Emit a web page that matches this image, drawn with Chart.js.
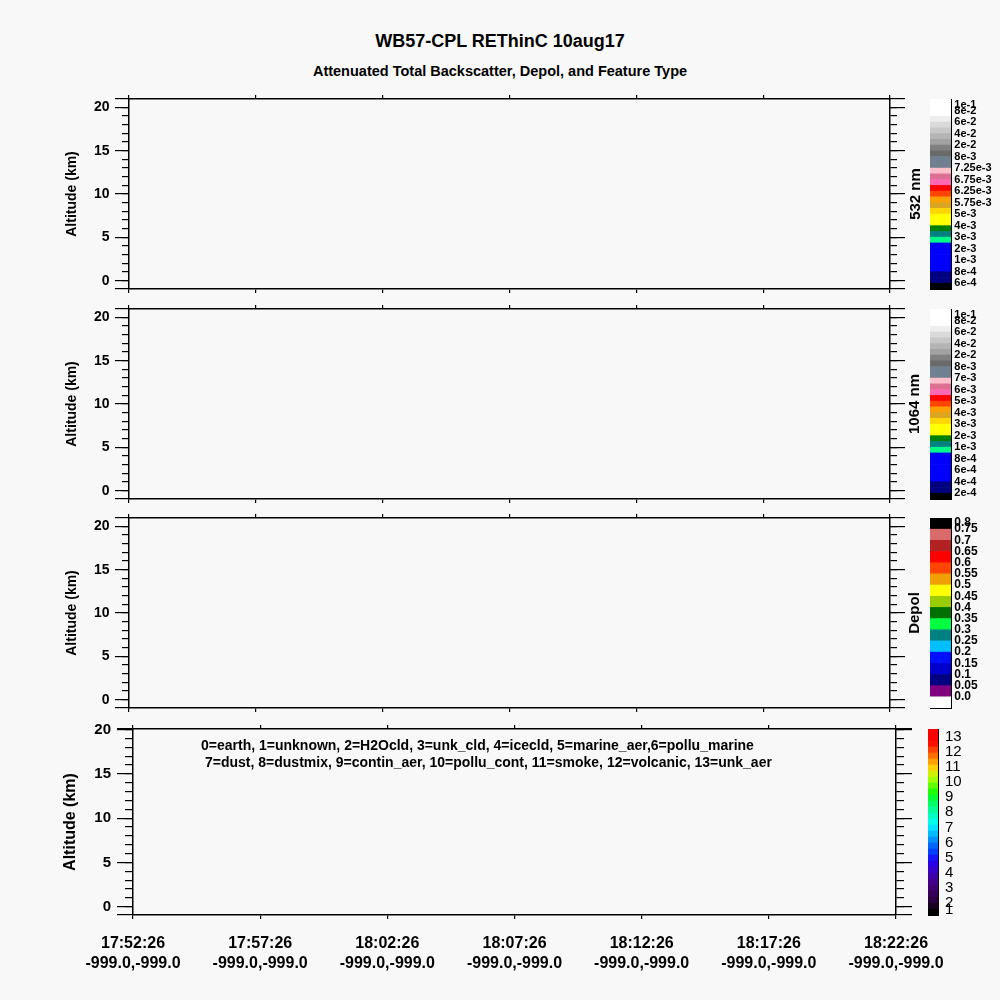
<!DOCTYPE html>
<html><head><meta charset="utf-8">
<script src="https://cdn.jsdelivr.net/npm/chart.js@4.4.1/dist/chart.umd.min.js"></script>
<style>
html,body{margin:0;padding:0;background:#f8f8f8;}
body{width:1000px;height:1000px;position:relative;overflow:hidden;font-family:"Liberation Sans",Arial,Helvetica,sans-serif;}
.t{position:absolute;white-space:nowrap;font-weight:bold;color:#000;}
canvas{position:absolute;}
</style></head><body>
<div class="t" style="left:0;width:1000px;text-align:center;top:32px;font-size:18px;line-height:18px;">WB57-CPL REThinC 10aug17</div>
<div class="t" style="left:0;width:1000px;text-align:center;top:63.5px;font-size:14.5px;line-height:14.5px;">Attenuated Total Backscatter, Depol, and Feature Type</div>
<div class="t" style="left:201px;top:738px;font-size:14px;line-height:14px;z-index:5;">0=earth, 1=unknown, 2=H2Ocld, 3=unk_cld, 4=icecld, 5=marine_aer,6=pollu_marine</div>
<div class="t" style="left:205px;top:755.3px;font-size:14px;line-height:14px;z-index:5;">7=dust, 8=dustmix, 9=contin_aer, 10=pollu_cont, 11=smoke, 12=volcanic, 13=unk_aer</div>
<script>
// ---------------- data ----------------
const timeMinutes = [0, 5, 10, 15, 20, 25, 30];
const timeLabels = ['17:52:26','17:57:26','18:02:26','18:07:26','18:12:26','18:17:26','18:22:26'];
const coordLabels = ['-999.0,-999.0','-999.0,-999.0','-999.0,-999.0','-999.0,-999.0','-999.0,-999.0','-999.0,-999.0','-999.0,-999.0'];
const altTicks = [0, 5, 10, 15, 20];

const cb532Labels = ['6e-4','8e-4','1e-3','2e-3','3e-3','4e-3','5e-3','5.75e-3','6.25e-3','6.75e-3','7.25e-3','8e-3','2e-2','4e-2','6e-2','8e-2','1e-1'];
const cb1064Labels = ['2e-4','4e-4','6e-4','8e-4','1e-3','2e-3','3e-3','4e-3','5e-3','6e-3','7e-3','8e-3','2e-2','4e-2','6e-2','8e-2','1e-1'];
const cbBackscatterPos = [1,3,5,7,9,11,13,15,17,19,21,23,25,27,29,31,32];
const backscatterColors = ['#000000','#000080','#000080','#0000ff','#0000ff','#0000ff','#0000ff','#0000ff',
  '#00fa8a','#008080','#008000','#ffff00','#ffff00','#ffd700','#daa520','#ff9f00','#ff4500','#ff0000',
  '#ff69b4','#db7093','#ffc0cb','#708090','#708090','#6a6a6a','#808080','#a2a2a2','#b4b4b4','#c8c8c8',
  '#dadada','#eeeeee','#ffffff','#ffffff','#ffffff'];

const depolLabels = ['0.0','0.05','0.1','0.15','0.2','0.25','0.3','0.35','0.4','0.45','0.5','0.55','0.6','0.65','0.7','0.75','0.8'];
const depolPos = [1,2,3,4,5,6,7,8,9,10,11,12,13,14,15,16,16.6];
const depolColors = ['#ffffff','#800080','#000080','#0000cd','#0010ff','#00bfff','#008080','#00ff40','#007000',
  '#9acd00','#ffff00','#f0a000','#ff4500','#ff0000','#b22222','#d96b6b','#000000'];

const ftLabels = ['1','2','3','4','5','6','7','8','9','10','11','12','13'];
const ftValues = [1,2,3,4,5,6,7,8,9,10,11,12,13];
const ftColors = ['#000000','#1a0020','#2a0040','#360058','#400070','#44008c','#4000a8','#3800c8','#2a00e6','#1414ff',
  '#0040ff','#0066ff','#0090ff','#00bbff','#00e0ff','#00ffe8','#00ffc0','#00ff98','#00ff66','#00ff33',
  '#20ff00','#60ff00','#a0ff00','#d0f000','#ffd000','#ffa000','#ff7000','#ff4000','#ff1000','#ff0000','#ff0000'];

// ---------------- helpers ----------------
Chart.defaults.font.family = "'Liberation Sans', Arial, Helvetica, sans-serif";
Chart.defaults.color = '#000';

function makeCanvas(left, top, w, h) {
  const c = document.createElement('canvas');
  c.width = w; c.height = h;
  c.style.left = left + 'px'; c.style.top = top + 'px';
  c.style.width = w + 'px'; c.style.height = h + 'px';
  document.body.appendChild(c);
  return c;
}
const setTicks = list => s => { s.ticks = list.map(v => ({ value: v })); };
const BORDER = { display: true, color: '#000', width: 1.5 };

function panel(p) {
  const h = (p.y1 - p.y0) + 10 + p.bottomH;
  const cv = makeCanvas(0, p.y0 - 10, 1000, h);
  const majVals = [p.yMin, ...altTicks, p.yMax];
  const minVals = [];
  for (let v = Math.ceil(p.yMin); v <= Math.floor(p.yMax); v++) minVals.push(v);
  const tickGrid = len => ({ drawOnChartArea: false, drawTicks: true, tickLength: len, color: '#000', lineWidth: 1.2 });
  const vFit = w => s => { s.width = w; s.paddingTop = 0; s.paddingBottom = 0; };
  new Chart(cv, {
    type: 'scatter',
    data: { datasets: [{ data: [], xAxisID: 'x', yAxisID: 'y' }] },
    options: {
      responsive: false, animation: false,
      layout: { padding: 0 },
      plugins: { legend: { display: false }, tooltip: { enabled: false } },
      scales: {
        x: {
          type: 'linear', position: 'bottom', min: 0, max: 30,
          afterBuildTicks: setTicks(timeMinutes),
          grid: tickGrid(4), border: BORDER,
          ticks: {
            display: p.labels, autoSkip: false, maxRotation: 0, padding: 14,
            font: { size: 16, weight: 'bold', lineHeight: 1.29 },
            callback: (v, i) => [timeLabels[i], coordLabels[i]]
          },
          afterFit: s => { s.height = p.bottomH; s.paddingLeft = 0; s.paddingRight = 0; }
        },
        xTop: {
          type: 'linear', position: 'top', min: 0, max: 30,
          afterBuildTicks: setTicks(timeMinutes),
          grid: tickGrid(4), border: BORDER, ticks: { display: false },
          afterFit: s => { s.height = 10; s.paddingLeft = 0; s.paddingRight = 0; }
        },
        y: {
          type: 'linear', position: 'left', weight: 1, min: p.yMin, max: p.yMax,
          afterBuildTicks: setTicks(majVals),
          grid: tickGrid(p.majL), border: { display: false },
          ticks: {
            autoSkip: false, padding: p.tickPad, font: { size: p.tickFs, weight: 'bold' },
            callback: v => altTicks.includes(v) ? String(v) : ''
          },
          title: { display: true, text: 'Altitude (km)', font: { size: p.titleFs, weight: 'bold' }, padding: { top: p.titlePad, bottom: 0 } },
          afterFit: vFit(p.x0)
        },
        yMin: {
          type: 'linear', position: 'left', weight: 0, min: p.yMin, max: p.yMax,
          afterBuildTicks: setTicks(minVals),
          grid: tickGrid(p.minL), border: BORDER, ticks: { display: false },
          afterFit: vFit(0)
        },
        yR: {
          type: 'linear', position: 'right', weight: 1, min: p.yMin, max: p.yMax,
          afterBuildTicks: setTicks(majVals),
          grid: tickGrid(p.majR), border: { display: false }, ticks: { display: false },
          afterFit: vFit(1000 - p.x1)
        },
        yMinR: {
          type: 'linear', position: 'right', weight: 0, min: p.yMin, max: p.yMax,
          afterBuildTicks: setTicks(minVals),
          grid: tickGrid(p.minR), border: BORDER, ticks: { display: false },
          afterFit: vFit(0)
        }
      }
    }
  });
}

function colorbar(o) {
  const cw = 1000 - o.cl;
  const h = (o.y1 - o.y0) + 20;
  const cv = makeCanvas(o.cl, o.y0 - 10, cw, h);
  const leftW = o.x0 - o.cl, rightW = cw - (o.x1 - o.cl);
  const datasets = o.colors.map(c => ({
    data: [1], backgroundColor: c, borderWidth: 0, barPercentage: 1, categoryPercentage: 1,
    xAxisID: 'x', yAxisID: 'y', stack: 'cb'
  }));
  const thin = { display: true, color: '#000', width: 1 };
  const hFit = s => { s.height = 0; s.paddingLeft = 0; s.paddingRight = 0; };
  new Chart(cv, {
    type: 'bar',
    data: { labels: ['cb'], datasets },
    options: {
      responsive: false, animation: false,
      layout: { padding: { top: 10, bottom: 10, left: 0, right: 0 } },
      plugins: { legend: { display: false }, tooltip: { enabled: false } },
      scales: {
        x: { type: 'category', position: 'bottom', stacked: true, grid: { display: false, drawTicks: false }, ticks: { display: false }, border: thin, afterFit: hFit },
        xTop: { type: 'category', labels: ['cb'], position: 'top', grid: { display: false, drawTicks: false }, ticks: { display: false }, border: thin, afterFit: hFit },
        y: {
          type: 'linear', position: 'left', stacked: true, min: 0, max: o.colors.length,
          grid: { display: false, drawTicks: false }, ticks: { display: false }, border: thin,
          title: o.title ? { display: true, text: o.title, font: { size: 15, weight: 'bold' }, padding: { top: o.titlePad, bottom: 0 } } : { display: false },
          afterFit: s => { s.width = leftW; s.paddingTop = 0; s.paddingBottom = 0; }
        },
        yLab: {
          type: 'linear', position: 'right', min: o.labMin, max: o.labMax,
          afterBuildTicks: s => { s.ticks = o.pos.map(v => ({ value: Math.max(v, o.labMin + (o.clampLow || 0)) })); },
          ticks: { autoSkip: false, font: o.font, padding: o.pad, callback: (v, i) => o.labels[i] },
          grid: { display: o.tickLen !== 0, drawOnChartArea: false, drawTicks: o.tickLen !== 0, tickLength: o.tickLen, color: '#000', lineWidth: 1 },
          border: thin,
          afterFit: s => { s.width = rightW; s.paddingTop = 0; s.paddingBottom = 0; }
        }
      }
    }
  });
}

// ---------------- panels ----------------
const small = { x0: 129, x1: 890, yMin: -0.96, yMax: 20.96, bottomH: 10, labels: false, tickFs: 14, titleFs: 14, majL: 14, minL: 7, majR: 15, minR: 7, tickPad: 5.5, titlePad: 63.3 };
panel(Object.assign({}, small, { y0: 99, y1: 289 }));
panel(Object.assign({}, small, { y0: 309, y1: 499 }));
panel(Object.assign({}, small, { y0: 518, y1: 708 }));
panel({ x0: 133, x1: 896, y0: 729, y1: 915, yMin: -0.94, yMax: 20.06, bottomH: 85, labels: true, tickFs: 15, titleFs: 16, majL: 16, minL: 8, majR: 16, minR: 8, tickPad: 6, titlePad: 61.1 });

// ---------------- colour bars ----------------
colorbar({ cl: 895, x0: 930, x1: 951, y0: 99, y1: 289, colors: backscatterColors, labels: cb532Labels, pos: cbBackscatterPos, labMin: 0, labMax: 33, title: '532 nm', titlePad: 12, font: { size: 11, weight: 'bold' }, pad: 6.3, tickLen: -3 });
colorbar({ cl: 895, x0: 930, x1: 951, y0: 309, y1: 499, colors: backscatterColors, labels: cb1064Labels, pos: cbBackscatterPos, labMin: 0, labMax: 33, title: '1064 nm', titlePad: 11, font: { size: 11, weight: 'bold' }, pad: 6.3, tickLen: -3 });
colorbar({ cl: 895, x0: 930, x1: 951, y0: 518, y1: 708, colors: depolColors, labels: depolLabels, pos: depolPos, labMin: 0, labMax: 17, title: 'Depol', titlePad: 11, font: { size: 12, weight: 'bold' }, pad: 6.3, tickLen: -3 });
colorbar({ cl: 920, x0: 928, x1: 938, y0: 729, y1: 915, colors: ftColors, labels: ftLabels, pos: ftValues, labMin: 1.22, labMax: 13.49, clampLow: 0.35, title: null, font: { size: 15 }, pad: 7, tickLen: 0 });
</script>
</body></html>
